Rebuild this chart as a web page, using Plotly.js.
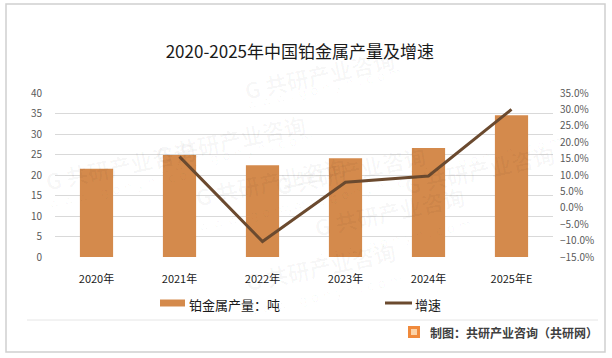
<!DOCTYPE html>
<html>
<head>
<meta charset="utf-8">
<script src="https://cdn.plot.ly/plotly-3.0.1.min.js"></script>
<style>
html,body{margin:0;padding:0;background:#fff;}
#chart{width:612px;height:358px;}
</style>
</head>
<body>
<div id="chart"></div>
<script>
const categories = ['2020年','2021年','2022年','2023年','2024年','2025年E'];
const output = [21.5, 24.9, 22.4, 24.1, 26.6, 34.6];
const growthYears = ['2021年','2022年','2023年','2024年','2025年E'];
const growth = [0.156, -0.103, 0.078, 0.097, 0.30];
const seriesNames = ['铂金属产量：吨', '增速'];

const L = 55, R = 553, T = 93, B = 257;
const px = x => (x - L) / (R - L);
const py = y => (B - y) / (B - T);

const font = '"Noto Sans CJK SC", "Microsoft YaHei", sans-serif';
const barColor = '#D48A4C', lineColor = '#6B4A2F';

const traces = [
  {
    type: 'bar', x: categories, y: output, name: seriesNames[0],
    marker: {color: barColor}, width: 0.4, yaxis: 'y', showlegend: false
  },
  {
    type: 'scatter', mode: 'lines', x: growthYears, y: growth, name: seriesNames[1],
    line: {color: lineColor, width: 3}, yaxis: 'y2', showlegend: false
  }
];

const wm = [];
const wmPos = [[150,105],[400,40],[190,215],[350,170],[470,245],[320,300],[560,135],[40,165]];
wmPos.forEach(p => {
  wm.push({xref:'paper', yref:'paper', x: px(p[0]), y: py(p[1]), text:'<b>G 共研产业咨询</b>',
    showarrow:false, textangle:-12, font:{family:font, size:22, color:'rgba(0,0,0,0.03)'}});
  wm.push({xref:'paper', yref:'paper', x: px(p[0]+5), y: py(p[1]+22), text:'w w w . g o n y n . c o m',
    showarrow:false, textangle:-12, font:{family:'DejaVu Sans', size:13, color:'rgba(0,0,0,0.03)'}});
});

const layout = {
  width: 612, height: 358,
  margin: {l: L, r: 612 - R, t: T, b: 358 - B},
  paper_bgcolor: '#fff', plot_bgcolor: 'rgba(0,0,0,0)',
  title: {text: '2020-2025年中国铂金属产量及增速', x: 0.49, xanchor: 'center', y: 1 - 52/358, yanchor: 'middle',
    font: {family: font, size: 17, color: '#1a1a1a'}},
  showlegend: false,
  xaxis: {type: 'category', categoryorder: 'array', categoryarray: categories,
    showgrid: false, zeroline: false, showline: false, ticks: '', ticklabelstandoff: 14,
    tickfont: {family: font, size: 11, color: '#1a1a1a'}},
  yaxis: {range: [0, 40], dtick: 5, showgrid: true, gridcolor: '#d9d9d9', gridwidth: 1,
    zeroline: false, showline: false, ticks: '', ticklabelstandoff: 12,
    tickfont: {family: font, size: 10, color: '#595959'}},
  yaxis2: {range: [-0.15, 0.35], dtick: 0.05, tickformat: '.1%', overlaying: 'y', side: 'right',
    showgrid: false, zeroline: false, showline: false, ticks: '', ticklabelstandoff: 6,
    tickfont: {family: font, size: 10, color: '#595959'}},
  shapes: [
    {type:'rect', xref:'paper', yref:'paper', x0: px(6), x1: px(605), y0: py(352), y1: py(4),
      line:{color:'#d0d0d0', width:1.5}, fillcolor:'rgba(0,0,0,0)', layer:'below'},
    {type:'line', xref:'paper', yref:'paper', x0: px(27), x1: px(598), y0: py(320), y1: py(320),
      line:{color:'#e6e6e6', width:1}},
    // legend symbols
    {type:'rect', xref:'paper', yref:'paper', x0: px(160), x1: px(185), y0: py(306.5), y1: py(299.5),
      line:{width:0}, fillcolor: barColor},
    {type:'line', xref:'paper', yref:'paper', x0: px(385), x1: px(412), y0: py(303), y1: py(303),
      line:{color: lineColor, width:3}},
    // logo
    {type:'rect', xref:'paper', yref:'paper', x0: px(408), x1: px(420), y0: py(338), y1: py(326),
      line:{width:0}, fillcolor:'#F08A3C'},
    {type:'rect', xref:'paper', yref:'paper', x0: px(411), x1: px(417), y0: py(335), y1: py(329),
      line:{width:0}, fillcolor:'#FBD3A8'}
  ],
  annotations: wm.concat([
    {xref:'paper', yref:'paper', x: px(187), xanchor:'left', y: py(304), yanchor:'middle',
      text: seriesNames[0], showarrow:false, font:{family: font, size: 13, color:'#1a1a1a'}},
    {xref:'paper', yref:'paper', x: px(413), xanchor:'left', y: py(304), yanchor:'middle',
      text: seriesNames[1], showarrow:false, font:{family: font, size: 13, color:'#1a1a1a'}},
    {xref:'paper', yref:'paper', x: px(600), xanchor:'right', y: py(332), yanchor:'middle',
      text:'<b>制图：共研产业咨询（共研网）</b>', showarrow:false,
      font:{family: font, size: 12, color:'#404040'}}
  ])
};

Plotly.newPlot('chart', traces, layout, {displayModeBar: false, staticPlot: true});
</script>
</body>
</html>
